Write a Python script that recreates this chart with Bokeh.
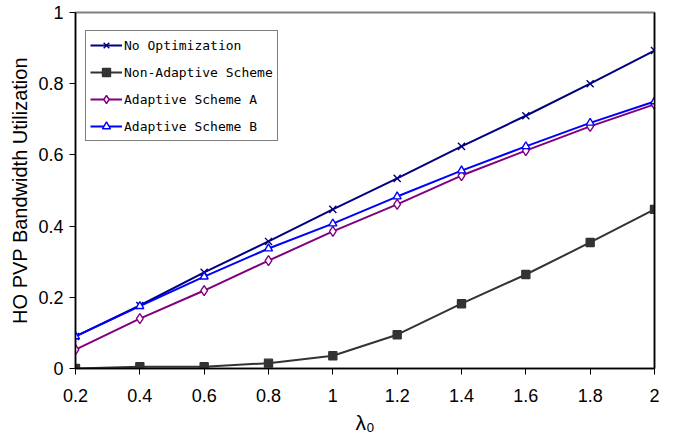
from bokeh.plotting import figure
from bokeh.models import LinearAxis, FixedTicker, Range1d, Legend
from bokeh.embed import file_html
from bokeh.resources import INLINE

lam = [0.2, 0.4, 0.6, 0.8, 1.0, 1.2, 1.4, 1.6, 1.8, 2.0]
no_opt = [0.09, 0.177, 0.27, 0.357, 0.447, 0.534, 0.624, 0.71, 0.80, 0.893]
non_adaptive = [0.0, 0.005, 0.005, 0.015, 0.036, 0.095, 0.182, 0.264, 0.354, 0.447]
scheme_a = [0.053, 0.14, 0.219, 0.303, 0.385, 0.461, 0.542, 0.612, 0.68, 0.742]
scheme_b = [0.09, 0.175, 0.258, 0.337, 0.407, 0.483, 0.556, 0.624, 0.69, 0.75]

x_ticks = [0.2, 0.4, 0.6, 0.8, 1.0, 1.2, 1.4, 1.6, 1.8, 2.0]
x_tick_labels = ["0.2", "0.4", "0.6", "0.8", "1", "1.2", "1.4", "1.6", "1.8", "2"]
y_ticks = [0, 0.2, 0.4, 0.6, 0.8, 1.0]
y_tick_labels = ["0", "0.2", "0.4", "0.6", "0.8", "1"]

p = figure(width=676, height=444, output_backend="svg", toolbar_location=None,
           x_range=Range1d(0.2, 2.0), y_range=Range1d(0, 1),
           min_border_left=75, min_border_right=22, min_border_top=12, min_border_bottom=76)
p.xgrid.visible = False
p.ygrid.visible = False
p.outline_line_color = "#808080"
p.outline_line_width = 2
p.background_fill_color = "white"
p.border_fill_color = "white"

for ax, ticks, labels in [(p.xaxis[0], x_ticks, x_tick_labels), (p.yaxis[0], y_ticks, y_tick_labels)]:
    ax.ticker = FixedTicker(ticks=ticks)
    ax.major_label_overrides = {t: l for t, l in zip(ticks, labels)}
    ax.major_label_text_font = "Liberation Sans"
    ax.major_label_text_font_size = "18px"
    ax.major_label_text_color = "black"
    ax.axis_line_color = "black"
    ax.axis_line_width = 1.5
    ax.major_tick_line_color = "black"
    ax.major_tick_out = 6
    ax.major_tick_in = 0
    ax.minor_tick_line_color = None
    ax.axis_label_text_font = "Liberation Sans"
    ax.axis_label_text_font_style = "normal"
    ax.axis_label_text_color = "black"

p.xaxis.major_label_standoff = 14
p.yaxis.major_label_standoff = 6
p.xaxis.axis_label = "λ₀"
p.xaxis.axis_label_text_font_size = "21px"
p.xaxis.axis_label_standoff = 6
p.yaxis.axis_label = "HO PVP Bandwidth Utilization"
p.yaxis.axis_label_text_font_size = "20px"
p.yaxis.axis_label_standoff = 4

right = LinearAxis(ticker=FixedTicker(ticks=[]), major_label_text_font_size="0px",
                   axis_line_color="black", axis_line_width=1.5,
                   major_tick_line_color=None, minor_tick_line_color=None)
p.add_layout(right, "right")

series = [
    ("No Optimization", no_opt, "#000080", "x", "#000080", 10),
    ("Non-Adaptive Scheme", non_adaptive, "#333333", "square", "#333333", 8),
    ("Adaptive Scheme A", scheme_a, "#800080", "diamond", "white", 10),
    ("Adaptive Scheme B", scheme_b, "#0000FF", "triangle", "white", 8),
]

items = []
for name, ys, color, marker, fill, size in series:
    l = p.line(lam, ys, line_color=color, line_width=2)
    s = p.scatter(lam, ys, marker=marker, size=size, line_color=color,
                  fill_color=fill, line_width=1.4)
    items.append((name, [l, s]))

legend = Legend(items=items, location=(10, 227))
legend.label_text_font = "DejaVu Sans Mono"
legend.label_text_font_size = "13px"
legend.label_text_color = "black"
legend.border_line_color = "black"
legend.border_line_width = 1
legend.background_fill_alpha = 1
legend.glyph_width = 32
legend.glyph_height = 20
legend.label_height = 20
legend.label_standoff = 2
legend.spacing = 7
legend.padding = 4
legend.margin = 0
p.add_layout(legend, "center")

open("out.html", "w").write(file_html(p, INLINE))
